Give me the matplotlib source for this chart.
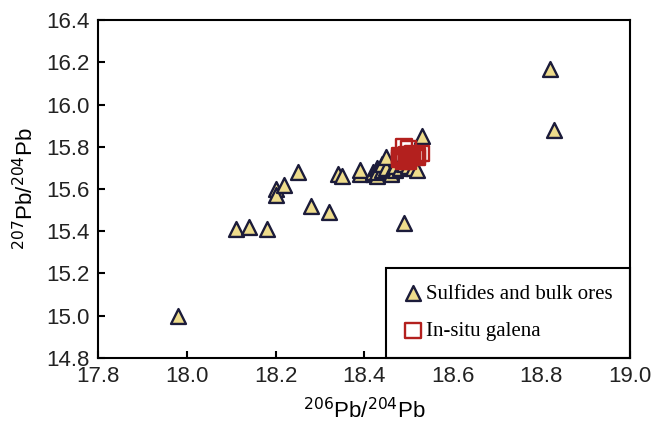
import matplotlib.pyplot as plt

# sulfides and bulk ores (206Pb/204Pb, 207Pb/204Pb)
ore_x = [17.98, 18.11, 18.14, 18.18, 18.20, 18.20, 18.22, 18.25, 18.28, 18.32,
         18.34, 18.35, 18.39, 18.39, 18.42, 18.42, 18.43, 18.43, 18.43, 18.44,
         18.44, 18.45, 18.45, 18.46, 18.46, 18.47, 18.47, 18.48, 18.49, 18.50,
         18.51, 18.52, 18.53, 18.49, 18.82, 18.83]
ore_y = [15.00, 15.41, 15.42, 15.41, 15.60, 15.57, 15.62, 15.68, 15.52, 15.49,
         15.67, 15.66, 15.67, 15.69, 15.67, 15.68, 15.66, 15.70, 15.68, 15.69,
         15.72, 15.70, 15.75, 15.68, 15.67, 15.69, 15.71, 15.70, 15.72, 15.71,
         15.70, 15.69, 15.85, 15.44, 16.17, 15.88]

# in-situ galena
gal_x = [18.49, 18.50, 18.53, 18.52, 18.48, 18.49, 18.50, 18.51, 18.48, 18.50,
         18.51, 18.48, 18.49, 18.50, 18.52, 18.49, 18.495, 18.505, 18.485, 18.495,
         18.505, 18.515, 18.49, 18.50]
gal_y = [15.80, 15.79, 15.77, 15.76, 15.75, 15.74, 15.76, 15.75, 15.74, 15.73,
         15.77, 15.76, 15.76, 15.74, 15.75, 15.73, 15.75, 15.75, 15.755, 15.765,
         15.765, 15.76, 15.745, 15.755]

plt.rcParams['font.family'] = ['Liberation Sans', 'DejaVu Sans']

fig = plt.figure(figsize=(6.56, 4.22), dpi=100)
ax = fig.add_axes([0.150, 0.152, 0.810, 0.800])

ax.scatter(ore_x, ore_y, marker='^', s=115, facecolor='#EEDC8C', edgecolor='#1C1C3A',
           linewidth=1.7, label='Sulfides and bulk ores', zorder=3)
ax.scatter(gal_x, gal_y, marker='s', s=120, facecolor='none', edgecolor='#B3201E',
           linewidth=1.7, label='In-situ galena', zorder=4)

ax.set_xlim(17.8, 19.0)
ax.set_ylim(14.8, 16.4)
ax.set_xticks([17.8, 18.0, 18.2, 18.4, 18.6, 18.8, 19.0])
ax.set_yticks([14.8, 15.0, 15.2, 15.4, 15.6, 15.8, 16.0, 16.2, 16.4])
ax.set_xticklabels(['17.8', '18.0', '18.2', '18.4', '18.6', '18.8', '19.0'])
ax.set_yticklabels(['14.8', '15.0', '15.2', '15.4', '15.6', '15.8', '16.0', '16.2', '16.4'])
ax.tick_params(direction='in', length=5, width=1.5, labelsize=16, pad=6,
               labelcolor='#222222')
for sp in ax.spines.values():
    sp.set_linewidth(1.5)

ax.set_xlabel(r'$^{206}$Pb/$^{204}$Pb', fontsize=16, labelpad=8)
ax.set_ylabel(r'$^{207}$Pb/$^{204}$Pb', fontsize=16, labelpad=6)

leg = ax.legend(loc='lower right', bbox_to_anchor=(1, 0), borderaxespad=0,
                fancybox=False, edgecolor='black', framealpha=1,
                prop={'family': 'Liberation Serif', 'size': 15},
                handletextpad=0.15, handlelength=1.0, borderpad=0.8,
                labelspacing=0.85)
leg.get_frame().set_linewidth(1.5)
leg.set_zorder(2)

fig.savefig('out.png', dpi=100)
